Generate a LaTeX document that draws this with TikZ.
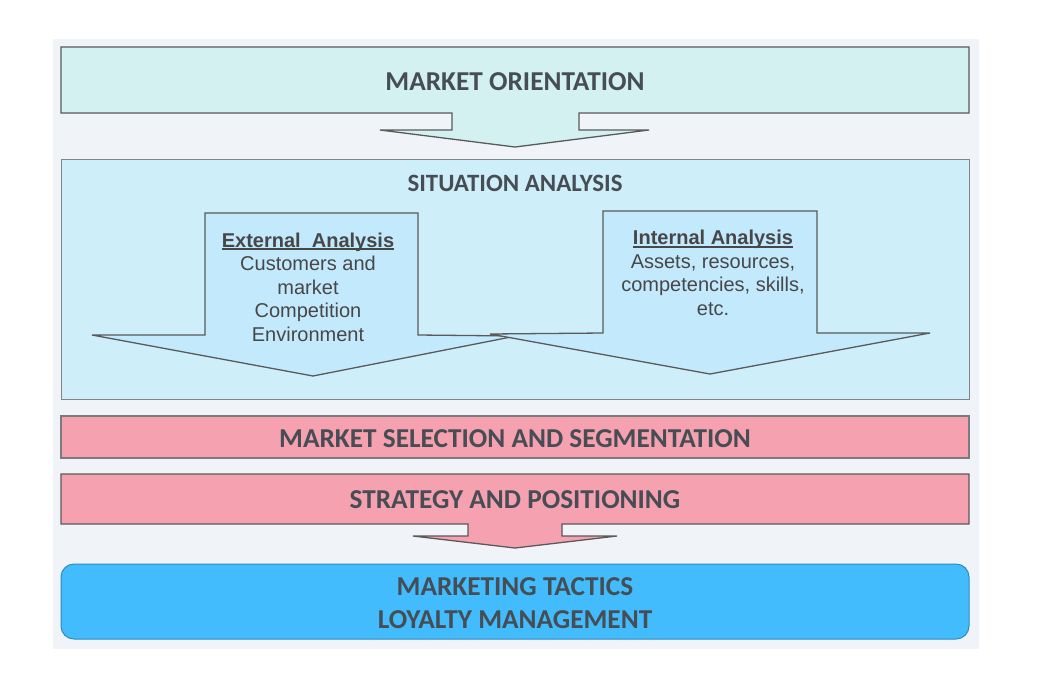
\documentclass[tikz,border=0pt]{standalone}
\usepackage{fontspec}
\setmainfont{Liberation Sans}
\newfontfamily\titlefont{Carlito}
\definecolor{panelbg}{HTML}{F0F4F8}
\definecolor{mintfill}{HTML}{D2F1F0}
\definecolor{sitfill}{HTML}{CEEEF9}
\definecolor{arrowfill}{HTML}{C3E9FC}
\definecolor{pinkfill}{HTML}{F5A1B0}
\definecolor{bluefill}{HTML}{42BCFC}
\definecolor{blueedge}{HTML}{2B8CC4}
\definecolor{edgegrey}{HTML}{5A5A5A}
\definecolor{titlecol}{HTML}{474D55}
\definecolor{textcol}{HTML}{474747}
\newcommand{\myul}[1]{\setbox0\hbox{#1}\rlap{\rule[-2.6pt]{\wd0}{1.3pt}}\box0}
\tikzset{
  shapebox/.style={draw=edgegrey, line width=1.3pt},
  titletext/.style={font=\titlefont\bfseries\fontsize{27.3}{33}\selectfont, text=titlecol, align=center, inner sep=0pt},
  smalltext/.style={font=\fontsize{20}{23.5}\selectfont, text=textcol, align=center, inner sep=0pt},
}
\begin{document}
\begin{tikzpicture}[x=1pt, y=-1pt]
\useasboundingbox (0,0) rectangle (1046,689);
% background panel
\fill[panelbg] (53,39) rectangle (979,649);
% market orientation box with arrow
\draw[shapebox, fill=mintfill] (61,47) -- (969,47) -- (969,113) -- (579,113) -- (579,130) -- (649,130) -- (515,147) -- (380,130) -- (452,130) -- (452,113) -- (61,113) -- cycle;
\node[titletext] (mo) at (515,81.5) {MARKET ORIENTATION};
% situation analysis
\draw[draw=edgegrey!75, line width=1pt, fill=sitfill] (61,159) rectangle (969,399);
\node[titletext, font=\titlefont\bfseries\fontsize{24.9}{28}\selectfont] (sa) at (515,183) {SITUATION ANALYSIS};
% external arrow
\draw[shapebox, fill=arrowfill] (205,213) -- (418,213) -- (418,335) -- (516,336) -- (313,376) -- (92,335) -- (205,335) -- cycle;
% internal arrow
\draw[shapebox, fill=arrowfill] (603,211) -- (817,211) -- (817,333) -- (930,333) -- (710,374) -- (490,334) -- (603,333) -- cycle;
\node[smalltext] (ext) at (308,287) {\textbf{\myul{External\ \ Analysis}}\\Customers and\\market\\Competition\\Environment};
\node[smalltext] (int) at (713,273) {\textbf{\myul{Internal Analysis}}\\Assets, resources,\\competencies, skills,\\etc.};
% market selection
\draw[shapebox, draw=edgegrey!80, fill=pinkfill] (61,416) rectangle (969,458);
\node[titletext] (ms) at (515,438.5) {MARKET SELECTION AND SEGMENTATION};
% strategy with arrow
\draw[shapebox, fill=pinkfill] (61,474) -- (969,474) -- (969,524) -- (562,524) -- (562,536) -- (617,536) -- (515,548) -- (413,536) -- (468,536) -- (468,524) -- (61,524) -- cycle;
\node[titletext] (sp) at (515,499.5) {STRATEGY AND POSITIONING};
% tactics
\draw[draw=blueedge, line width=1pt, fill=bluefill, rounded corners=13pt] (61,564) rectangle (969,639);
\node[titletext] (mt) at (515,586.5) {MARKETING TACTICS};
\node[titletext] (lm) at (515,619.5) {LOYALTY MANAGEMENT};
\end{tikzpicture}
\end{document}
